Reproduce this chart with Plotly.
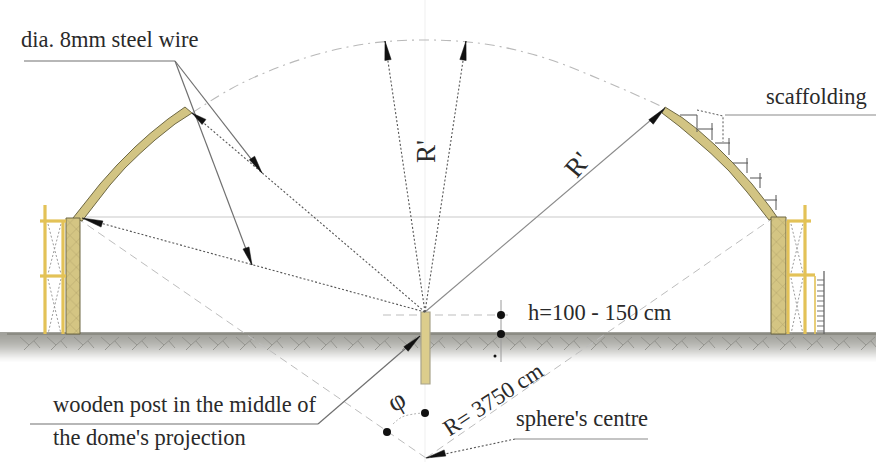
import plotly.graph_objects as go

W, H = 876, 470
SERIF = "Liberation Serif"
TXT = "#2a2a2a"
WOOD = "#d2c483"
YEL = "#e3c257"

# ground gradient
ground_x = [7, 876]
ground_y = [334, 338, 342, 346, 350, 354, 358, 362]
ground_shade = [0.0, 0.08, 0.18, 0.32, 0.5, 0.7, 0.88, 1.0]
chevron_x = [20 + 27 * i for i in range(32)]

# dome shells
left_shell_x = [73, 85, 100, 117, 135, 150, 168, 185, 192, 175, 155, 140, 125, 110, 95, 82]
left_shell_y = [218, 203, 184, 165, 147, 133.5, 119, 107, 113, 124, 140, 153.5, 168, 185, 204, 221]
right_shell_x = [665, 682, 697, 715, 733, 752, 770, 777, 769, 762, 747, 729, 711, 692, 679, 662]
right_shell_y = [107, 117.5, 129, 145, 163, 184, 207, 217, 220, 211, 192, 171, 153.5, 137, 126, 113]

# walls
left_wall_x = [66, 80, 80, 66]
left_wall_y = [218, 218, 334, 334]
right_wall_x = [771, 786, 786, 771]
right_wall_y = [217, 217, 334, 334]

# large dashed arc
arc_x = [192, 240, 305, 365, 425, 485, 545, 618, 665]
arc_y = [113, 84, 58, 44, 40, 44, 58, 87, 108]

# centre post
post_x = [421, 430, 430, 421]
post_y = [312, 312, 384, 384]

# scaffolding posts: (x0, y0, x1, y1)
yellow_thick = [
    (45, 205, 45, 334), (63, 221, 63, 334), (40, 221, 66, 221), (40, 276, 66, 276),
    (805, 205, 805, 334), (788, 221, 788, 334), (787, 221, 811, 221), (787, 275, 815, 275),
]
yellow_thin = [(815, 276, 815, 334)]
braces = [
    (48, 224, 61, 274), (61, 224, 48, 274), (48, 279, 61, 334), (61, 279, 48, 334),
    (791, 224, 803, 273), (803, 224, 791, 273), (791, 278, 803, 334), (803, 278, 791, 334),
]
ladder_rungs_y = [280, 285, 291, 296, 301, 306, 311, 316, 321, 326, 331]
ladder_side = [(824, 271, 824, 334)]

# scaffold on the right shell
shell_scaffold = [
    (680, 115, 697, 115), (697, 115, 697, 132), (698, 129, 713, 129), (712, 123, 712, 140),
    (715, 143, 730, 143), (729, 138, 729, 155), (733, 163, 748, 163), (747, 158, 747, 173),
    (750, 178, 762, 178), (760, 173, 760, 188), (765, 200, 777, 200), (776, 195, 776, 210),
]
scaffold_dash_x = [697, 723, 723]
scaffold_dash_y = [110, 116, 142]

# leaders
leaders = [
    (24, 61, 175, 61), (175, 61, 262, 173), (175, 61, 252, 265),
    (30, 424, 318, 424), (318, 424, 420, 336), (425, 312, 665, 108),
    (515, 439, 648, 439), (725, 115, 876, 115),
]
thin_light = [(80, 217, 771, 217)]
centre_line = [(425, 0, 425, 462)]

dotted = [
    (425, 312, 82, 218), (425, 312, 192, 113), (425, 312, 385, 41),
    (425, 312, 466, 41), (515, 439, 426, 458),
]
long_dash = [(426, 458, 80, 220), (426, 458, 770, 220), (383, 315, 508, 315)]
dimension = [(501, 300, 501, 362)]

# arrowheads: tip x, tip y, base x, base y
arrows = [
    (192, 113, 204, 122), (262, 173, 252, 158), (252, 265, 246, 248),
    (82, 218, 102, 224), (385, 41, 388, 60), (466, 41, 463, 60),
    (665, 108, 651, 122), (420, 336, 406, 349), (426, 458, 445, 453),
]

# dots
dot_x = [501, 501, 425, 387]
dot_y = [315, 334, 413, 432]
phi_arc_x = [393, 402, 414, 423]
phi_arc_y = [424, 417, 414, 413]

# text: string, x, y, size, angle
labels = [
    ("dia. 8mm steel wire", 109, 39, 22.5, 0),
    ("scaffolding", 816, 96, 22.5, 0),
    ("h=100 - 150 cm", 600, 312, 22.5, 0),
    ("wooden post in the middle of", 185, 404, 22.5, 0),
    ("the dome's projection", 149, 437, 22.5, 0),
    ("sphere's centre", 582, 418, 22.5, 0),
    ("R= 3750 cm", 493, 399, 23, -33),
    ("R'", 426, 152, 27, -90),
    ("R'", 577, 165, 27, -50),
    ("φ", 396, 400, 28, -30),
]


def add_segments(fig, segs, color, width, dash="solid"):
    xs, ys = [], []
    for x0, y0, x1, y1 in segs:
        xs += [x0, x1, None]
        ys += [y0, y1, None]
    fig.add_trace(go.Scatter(x=xs, y=ys, mode="lines", hoverinfo="skip",
                             line=dict(color=color, width=width, dash=dash)))


def add_poly(fig, x, y, fill, outline="#6e6844", width=1, **kw):
    fig.add_trace(go.Scatter(x=x + x[:1], y=y + y[:1], mode="lines", fill="toself",
                             fillcolor=fill, hoverinfo="skip",
                             line=dict(color=outline, width=width), **kw))


fig = go.Figure()
fig.add_trace(go.Heatmap(x=ground_x, y=ground_y, z=[[s, s] for s in ground_shade],
                         zmin=0, zmax=1, zsmooth="best", showscale=False, hoverinfo="skip",
                         colorscale=[[0, "#a2a29c"], [1, "#ffffff"]]))
add_segments(fig, [(7, 334, 876, 334)], "#77776c", 1.2)

chev = []
for c in chevron_x:
    chev += [(c, 337, c + 9, 345), (c + 9, 345, c + 4, 350), (c + 9, 345, c + 18, 337),
             (c + 14, 341, c + 20, 348)]
add_segments(fig, chev, "#8c8c86", 0.8)

add_segments(fig, centre_line, "#efefef", 1)
add_segments(fig, thin_light, "#c9c9c9", 1)
fig.add_trace(go.Scatter(x=arc_x, y=arc_y, mode="lines", hoverinfo="skip",
                         line=dict(color="#b9b9b9", width=1.1, dash="10px,5px,2px,5px", shape="spline")))
add_segments(fig, long_dash, "#bdbdbd", 1, "8px,5px")

add_poly(fig, left_shell_x, left_shell_y, WOOD)
add_poly(fig, right_shell_x, right_shell_y, WOOD)
pattern = dict(shape="x", bgcolor="#d4c583", fgcolor="#8f8350", size=9, solidity=0.12)
add_poly(fig, left_wall_x, left_wall_y, WOOD, fillpattern=pattern)
add_poly(fig, right_wall_x, right_wall_y, WOOD, fillpattern=pattern)
add_poly(fig, post_x, post_y, "#dccd8c", outline="#a8a38a", width=1.2)

add_segments(fig, braces, "#9a9a9a", 1, "2px,2px")
add_segments(fig, yellow_thick, YEL, 3.2)
add_segments(fig, yellow_thin, YEL, 1.6)
add_segments(fig, [(817, y, 824, y) for y in ladder_rungs_y], "#9b9b9b", 1.4)
add_segments(fig, ladder_side, "#666666", 1.3)

add_segments(fig, shell_scaffold, "#555555", 1)
fig.add_trace(go.Scatter(x=scaffold_dash_x, y=scaffold_dash_y, mode="lines", hoverinfo="skip",
                         line=dict(color="#555555", width=1, dash="2px,2px")))
add_segments(fig, leaders[:5], "#707070", 1.2)
add_segments(fig, leaders[5:], "#8a8a8a", 1.1)
add_segments(fig, dotted, "#555555", 1.1, "2px,2px")
add_segments(fig, dimension, "#9a9a9a", 1)
fig.add_trace(go.Scatter(x=phi_arc_x, y=phi_arc_y, mode="lines", hoverinfo="skip",
                         line=dict(color="#b0b0b0", width=1, dash="2px,2px", shape="spline")))

for tx, ty, bx, by in arrows:
    dx, dy = bx - tx, by - ty
    n = (dx * dx + dy * dy) ** 0.5
    px, py = -dy / n * 3.2, dx / n * 3.2
    fig.add_trace(go.Scatter(x=[tx, bx + px, bx - px, tx], y=[ty, by + py, by - py, ty],
                             mode="lines", fill="toself", fillcolor="#111111",
                             line=dict(color="#111111", width=0.5), hoverinfo="skip"))

fig.add_trace(go.Scatter(x=dot_x, y=dot_y, mode="markers", hoverinfo="skip",
                         marker=dict(color="#111111", size=8)))
fig.add_trace(go.Scatter(x=[495], y=[356], mode="markers", hoverinfo="skip",
                         marker=dict(color="#111111", size=3)))

for s, x, y, size, ang in labels:
    fig.add_annotation(x=x, y=y, xref="x", yref="y", text=s, showarrow=False, textangle=ang,
                       font=dict(family=SERIF, size=size, color=TXT))

fig.update_layout(
    width=W, height=H, margin=dict(l=0, r=0, t=0, b=0), showlegend=False,
    paper_bgcolor="white", plot_bgcolor="white",
    xaxis=dict(range=[0, W], visible=False, fixedrange=True),
    yaxis=dict(range=[H, 0], visible=False, fixedrange=True),
)
fig.write_html("out.html", config={"displayModeBar": False},
               post_script="document.body.style.margin='0';")
